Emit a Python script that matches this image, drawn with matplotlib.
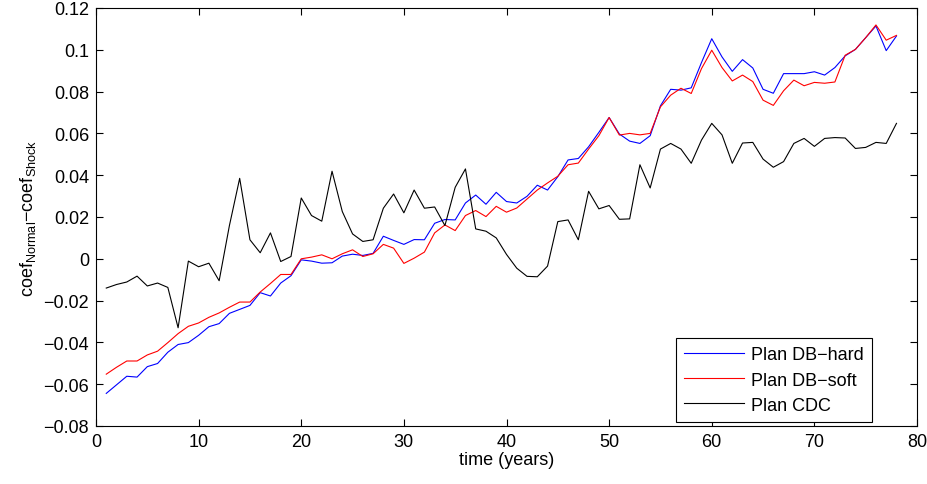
import matplotlib
matplotlib.use("Agg")
import matplotlib.pyplot as plt

plt.rcParams['font.family'] = ['Liberation Sans', 'DejaVu Sans']
plt.rcParams['mathtext.default'] = 'regular'

years = list(range(1, 79))

db_hard = [
    -0.0644, -0.0603, -0.0562, -0.0566, -0.0516, -0.0501, -0.0447, -0.0410, -0.0401, -0.0366,
    -0.0325, -0.0310, -0.0261, -0.0242, -0.0223, -0.0162, -0.0178, -0.0116, -0.0081, -0.0005,
    -0.0011, -0.0021, -0.0019, 0.0013, 0.0022, 0.0016, 0.0026, 0.0108, 0.0088, 0.0069,
    0.0092, 0.0091, 0.0170, 0.0188, 0.0186, 0.0267, 0.0305, 0.0261, 0.0318, 0.0274,
    0.0267, 0.0299, 0.0352, 0.0329, 0.0393, 0.0473, 0.0480, 0.0536, 0.0605, 0.0676,
    0.0597, 0.0563, 0.0552, 0.0589, 0.0732, 0.0811, 0.0807, 0.0818, 0.0939, 0.1053,
    0.0966, 0.0897, 0.0953, 0.0913, 0.0811, 0.0792, 0.0886, 0.0886, 0.0886, 0.0895,
    0.0879, 0.0915, 0.0971, 0.1002, 0.1058, 0.1114, 0.0996, 0.1066,
]

db_soft = [
    -0.0552, -0.0519, -0.0489, -0.0489, -0.0460, -0.0442, -0.0401, -0.0358, -0.0323, -0.0307,
    -0.0280, -0.0259, -0.0232, -0.0207, -0.0207, -0.0159, -0.0118, -0.0075, -0.0075, 0.0000,
    0.0008, 0.0019, 0.0000, 0.0024, 0.0043, 0.0011, 0.0024, 0.0069, 0.0051, -0.0022,
    0.0003, 0.0032, 0.0124, 0.0162, 0.0135, 0.0207, 0.0231, 0.0202, 0.0251, 0.0223,
    0.0243, 0.0286, 0.0329, 0.0363, 0.0395, 0.0450, 0.0458, 0.0525, 0.0589, 0.0676,
    0.0592, 0.0600, 0.0593, 0.0600, 0.0727, 0.0783, 0.0816, 0.0791, 0.0910, 0.0998,
    0.0915, 0.0851, 0.0879, 0.0848, 0.0759, 0.0734, 0.0804, 0.0855, 0.0828, 0.0844,
    0.0840, 0.0846, 0.0974, 0.1002, 0.1058, 0.1119, 0.1046, 0.1069,
]

cdc = [
    -0.0140, -0.0123, -0.0111, -0.0083, -0.0130, -0.0116, -0.0137, -0.0330, -0.0011, -0.0038,
    -0.0021, -0.0105, 0.0159, 0.0385, 0.0091, 0.0029, 0.0124, -0.0013, 0.0011, 0.0291,
    0.0207, 0.0180, 0.0419, 0.0226, 0.0119, 0.0083, 0.0091, 0.0242, 0.0310, 0.0220,
    0.0329, 0.0242, 0.0248, 0.0159, 0.0342, 0.0430, 0.0143, 0.0132, 0.0100, 0.0021,
    -0.0045, -0.0084, -0.0086, -0.0035, 0.0178, 0.0186, 0.0091, 0.0323, 0.0239, 0.0255,
    0.0189, 0.0191, 0.0450, 0.0339, 0.0525, 0.0552, 0.0525, 0.0457, 0.0568, 0.0648,
    0.0593, 0.0457, 0.0554, 0.0557, 0.0477, 0.0438, 0.0465, 0.0552, 0.0576, 0.0538,
    0.0576, 0.0580, 0.0578, 0.0528, 0.0533, 0.0557, 0.0552, 0.0648,
]

fs = 13

fig = plt.figure(figsize=(9.28, 4.85), dpi=100)
ax = fig.add_axes([96 / 928, 1 - 427 / 485, (917 - 96) / 928, (427 - 9) / 485])

ax.plot(years, db_hard, color='#0000ff', lw=0.8, label='Plan DB\u2212hard')
ax.plot(years, db_soft, color='#ff0000', lw=0.8, label='Plan DB\u2212soft')
ax.plot(years, cdc, color='black', lw=0.8, label='Plan CDC')

ax.set_xlim(0, 80)
ax.set_ylim(-0.08, 0.12)
ax.set_xticks(range(0, 81, 10))
ax.set_yticks([-0.08, -0.06, -0.04, -0.02, 0, 0.02, 0.04, 0.06, 0.08, 0.1, 0.12])
ax.set_yticklabels(['\u22120.08', '\u22120.06', '\u22120.04', '\u22120.02', '0',
                    '0.02', '0.04', '0.06', '0.08', '0.1', '0.12'])
ax.tick_params(direction='in', top=True, right=True, labelsize=fs, length=5, width=0.8, pad=5)
for s in ax.spines.values():
    s.set_linewidth(0.8)

ax.set_xlabel('time (years)', fontsize=fs, labelpad=1)
ax.set_ylabel('coef$_{Normal}$\u2212coef$_{Shock}$', fontsize=fs, labelpad=4)

leg = ax.legend(loc='lower right', bbox_to_anchor=(0.945, 0.01), fontsize=fs,
                fancybox=False, edgecolor='black', framealpha=1,
                handlelength=3.3, handletextpad=0.4, labelspacing=0.45,
                borderpad=0.45, borderaxespad=0)
leg.get_frame().set_linewidth(0.8)

fig.savefig('out.png', dpi=100)
